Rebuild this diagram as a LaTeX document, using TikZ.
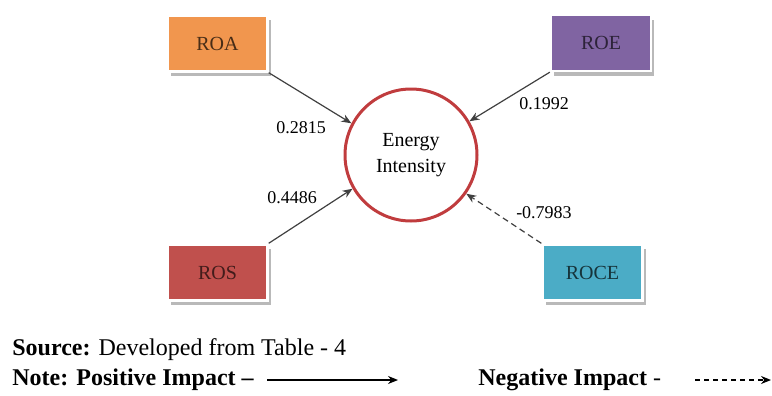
\documentclass[tikz,border=0pt]{standalone}
\usepackage{fontspec}
\setmainfont{Liberation Serif}
\usetikzlibrary{arrows.meta,shadows}

\definecolor{roaorange}{RGB}{241,150,78}
\definecolor{roepurple}{RGB}{128,100,162}
\definecolor{rosred}{RGB}{192,80,77}
\definecolor{rocecyan}{RGB}{75,172,198}
\definecolor{ringred}{RGB}{192,60,62}

\begin{document}
\begin{tikzpicture}[x=0.5pt, y=-0.5pt,
    ratio/.style={draw=white, line width=1.2pt, minimum width=50pt, minimum height=28pt,
        inner sep=0pt, font=\fontsize{10}{12}\selectfont,
        drop shadow={shadow xshift=1.6pt, shadow yshift=-2.4pt, fill=gray!55, opacity=1}},
    coef/.style={font=\fontsize{9}{11}\selectfont, inner sep=0pt},
    link/.style={draw=black!75, line width=0.6pt, -{Stealth[length=5pt, width=4pt]}},
    note/.style={anchor=base west, inner sep=0pt, font=\fontsize{12}{14}\selectfont}]

    \useasboundingbox (0, 0) rectangle (772, 396);

    \node[ratio, fill=roaorange, text=roaorange!30!black] (roa) at (217.5, 43.5) {ROA};
    \node[ratio, fill=roepurple, text=roepurple!35!black] (roe) at (601, 43) {ROE};
    \node[ratio, fill=rosred, text=rosred!35!black] (ros) at (217.5, 272.5) {ROS};
    \node[ratio, fill=rocecyan, text=rocecyan!30!black] (roce) at (592.5, 272.5) {ROCE};

    \node[circle, draw=ringred, line width=1.5pt, minimum size=66pt, inner sep=0pt,
        align=center, font=\fontsize{10}{13}\selectfont] (ei) at (411, 155) {Energy\\Intensity};

    \draw[link] (roa.south east) -- (ei.152);
    \draw[link] (roe.south west) -- (ei.30);
    \draw[link] (ros.north east) -- (ei.210);
    \draw[link, densely dashed] (roce.north west) -- (ei.325);

    \node[coef] (c1) at (301, 128) {0.2815};
    \node[coef] (c2) at (544, 104) {0.1992};
    \node[coef] (c3) at (292, 198) {0.4486};
    \node[coef] (c4) at (544, 213) {-0.7983};

    \node[note] (src) at (12, 355) {\textbf{Source:} Developed from Table - 4};
    \node[note] (pos) at (12, 385) {\textbf{Note: Positive Impact –}};
    \node[note] (neg) at (478, 385) {\textbf{Negative Impact} -};

    \coordinate (posA) at (267, 380);
    \coordinate (posB) at (398, 380);
    \coordinate (negA) at (695, 380);
    \coordinate (negB) at (771, 380);

    \draw[link, draw=black] (posA) -- (posB);
    \draw[link, draw=black, dash pattern=on 2.5pt off 2pt] (negA) -- (negB);

\end{tikzpicture}
\end{document}
